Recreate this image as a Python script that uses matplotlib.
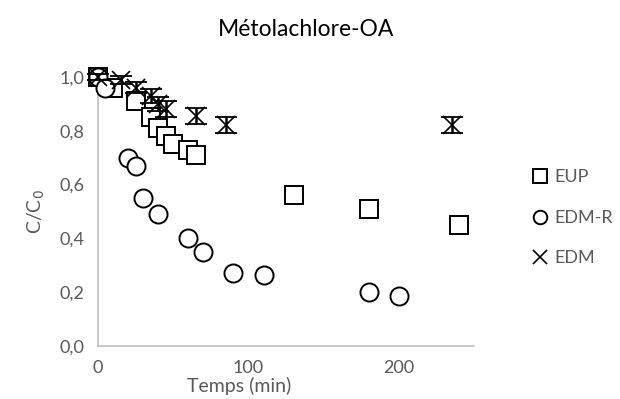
import matplotlib.pyplot as plt

# Données
t_eup = [0, 10, 25, 35, 40, 45, 50, 60, 65, 130, 180, 240]
c_eup = [1.0, 0.96, 0.91, 0.85, 0.81, 0.78, 0.75, 0.73, 0.71, 0.56, 0.51, 0.45]

t_edmr = [0, 5, 20, 25, 30, 40, 60, 70, 90, 110, 180, 200]
c_edmr = [1.0, 0.96, 0.70, 0.67, 0.55, 0.49, 0.40, 0.35, 0.27, 0.265, 0.20, 0.185]

t_edm = [0, 15, 25, 35, 40, 45, 65, 85, 235]
c_edm = [1.0, 0.99, 0.96, 0.93, 0.90, 0.88, 0.855, 0.82, 0.82]
err_edm = [0.01, 0.015, 0.02, 0.025, 0.025, 0.03, 0.03, 0.03, 0.03]

x_ticks = [0, 100, 200]
y_ticks = [0.0, 0.2, 0.4, 0.6, 0.8, 1.0]

plt.rcParams['font.family'] = ['Lato', 'DejaVu Sans']
grey = '#595959'
axis_grey = '#bfbfbf'

fig = plt.figure(figsize=(6.2, 3.99), dpi=100)
ax = fig.add_axes([0.158, 0.133, 0.607, 0.674])

ax.plot(t_eup, c_eup, ls='none', marker='s', ms=13, mfc='white', mec='black',
        mew=1.4, clip_on=False, label='EUP', zorder=3)
ax.plot(t_edmr, c_edmr, ls='none', marker='o', ms=13, mfc='white', mec='black',
        mew=1.4, clip_on=False, label='EDM-R', zorder=4)
ax.errorbar(t_edm, c_edm, yerr=err_edm, fmt='none', ecolor='black', elinewidth=1.8,
            capsize=8, capthick=1.3, clip_on=False, zorder=5)
ax.plot(t_edm, c_edm, ls='none', marker='x', ms=13, mec='black', mew=1.2,
        clip_on=False, label='EDM', zorder=6)

ax.set_xlim(0, 250)
ax.set_ylim(0, 1.0)
ax.set_xticks(x_ticks)
ax.set_yticks(y_ticks)
ax.set_yticklabels([f'{v:.1f}'.replace('.', ',') for v in y_ticks])
ax.tick_params(length=0, labelsize=13, labelcolor=grey)
ax.tick_params(axis='x', pad=10)
ax.tick_params(axis='y', pad=10)

for side in ['top', 'right']:
    ax.spines[side].set_visible(False)
for side in ['left', 'bottom']:
    ax.spines[side].set_color(axis_grey)
    ax.spines[side].set_linewidth(1.2)

ax.set_xlabel('Temps (min)', fontsize=14, color=grey, va='center')
ax.xaxis.set_label_coords(0.375, -0.15)
ax.set_ylabel('C/C$_0$', fontsize=14, color=grey, va='center')
ax.yaxis.set_label_coords(-0.165, 0.5)
fig.text(0.494, 0.925, 'Métolachlore-OA', fontsize=16.5, ha='center', va='center')

leg = fig.legend(loc='center left', bbox_to_anchor=(0.845, 0.454), frameon=False,
                 fontsize=13, labelcolor=grey, handletextpad=0.3, handlelength=1.0,
                 labelspacing=1.35, markerscale=0.75, borderaxespad=0)

fig.savefig('out.png', dpi=100)
